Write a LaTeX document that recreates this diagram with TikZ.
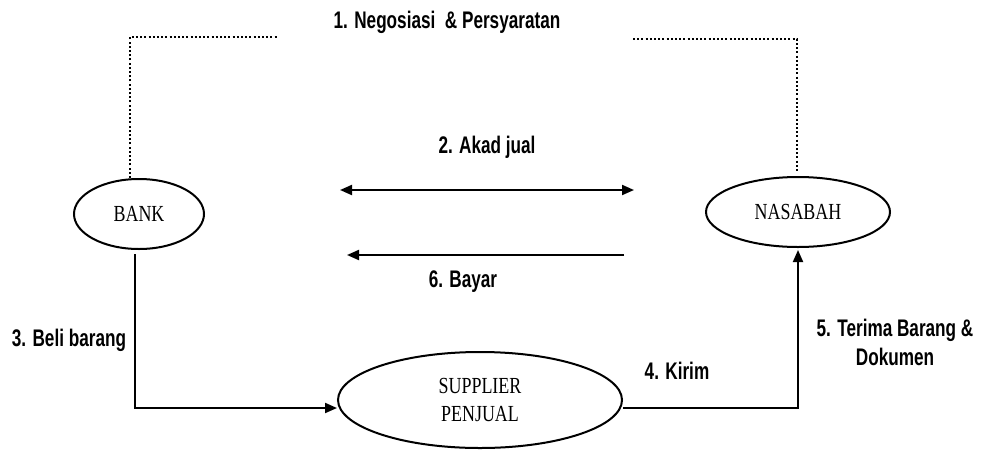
\documentclass[tikz,border=0pt]{standalone}
\usepackage{fontspec}
\newfontfamily\lblfont[FakeStretch=0.715]{Liberation Sans}
\newfontfamily\boxfont[FakeStretch=0.78]{Liberation Serif}
\usetikzlibrary{arrows.meta,shapes.geometric}
\begin{document}
\begin{tikzpicture}[x=1pt,y=-1pt,
  ent/.style={ellipse,draw,line width=2pt,inner sep=0pt,font=\boxfont\fontsize{23}{28}\selectfont,align=center},
  lbl/.style={font=\lblfont\bfseries\fontsize{24}{29}\selectfont,inner sep=0pt,align=center},
  dotline/.style={line width=2pt,dash pattern=on 2pt off 2.2pt},
  arr/.style={line width=2pt,-{Triangle[length=12pt,width=10pt]}},
  darr/.style={line width=2pt,{Triangle[length=12pt,width=10pt]}-{Triangle[length=12pt,width=10pt]}}]
\useasboundingbox (0,0) rectangle (981,450);
% nodes
\node[ent,minimum width=130pt,minimum height=70pt] (bank) at (139,214) {BANK};
\node[ent,minimum width=184pt,minimum height=70pt] (nasabah) at (798,212) {NASABAH};
\node[ent,minimum width=284pt,minimum height=96pt] (supplier) at (480,400) {SUPPLIER\\PENJUAL};
% labels
\node[lbl] (l1) at (447,22) {1. Negosiasi\ \ \& Persyaratan};
\node[lbl] (l2) at (487,147) {2. Akad jual};
\node[lbl] (l6) at (463,282) {6. Bayar};
\node[lbl] (l3) at (69,340) {3. Beli barang};
\node[lbl] (l4) at (677,371) {4. Kirim};
\node[lbl] (l5) at (895,342) {5. Terima Barang \&\\Dokumen};
% coordinates
\coordinate (d1a) at (130,178);
\coordinate (d1b) at (130,37);
\coordinate (d1c) at (277,37);
\coordinate (d2a) at (633,39);
\coordinate (d2b) at (797,39);
\coordinate (d2c) at (797,173);
\coordinate (a2l) at (340,190);
\coordinate (a2r) at (634,190);
\coordinate (a6r) at (624,255);
\coordinate (a6l) at (347,255);
\coordinate (a3) at (135,254);
\coordinate (y4) at (0,408);
% connectors
\draw[dotline] (d1a) -- (d1b) -- (d1c);
\draw[dotline] (d2a) -- (d2b) -- (d2c);
\draw[darr] (a2l) -- (a2r);
\draw[arr] (a6r) -- (a6l);
\draw[arr] (a3) |- (supplier.west |- y4);
\draw[arr,shorten >=2pt] (supplier.east |- y4) -| (nasabah.south);
\end{tikzpicture}
\end{document}
